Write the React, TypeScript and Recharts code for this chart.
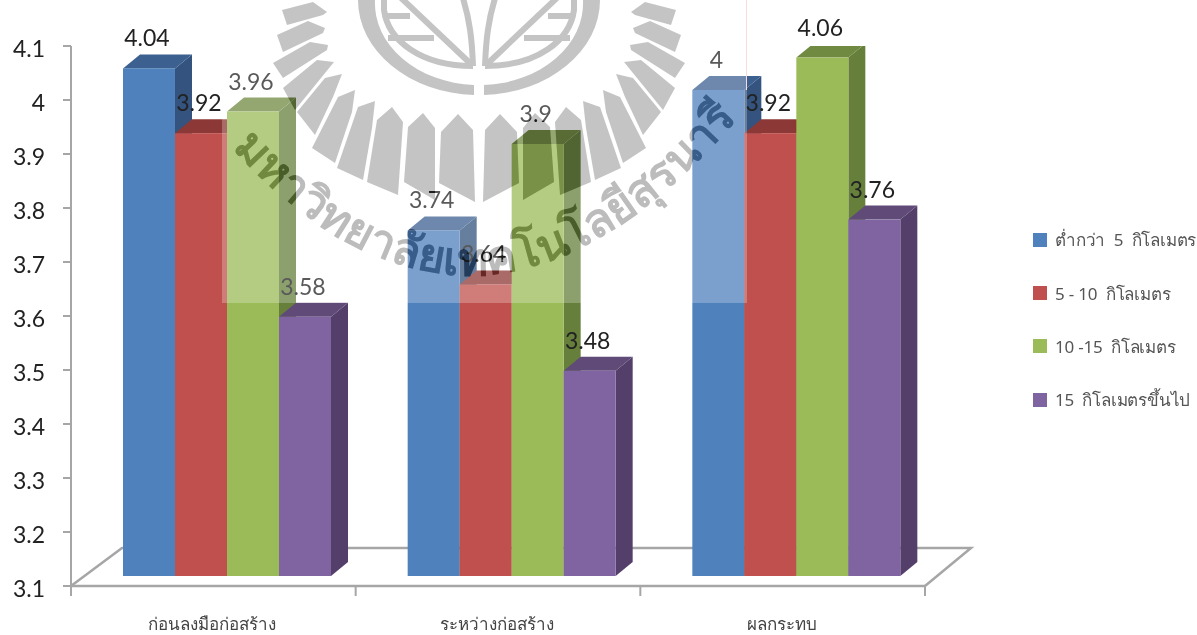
import { Bar, BarChart, LabelList, Legend, XAxis, YAxis } from "recharts";

const categories = ["ก่อนลงมือก่อสร้าง", "ระหว่างก่อสร้าง", "ผลกระทบ"];
const under5km = [4.04, 3.74, 4];
const km5to10 = [3.92, 3.64, 3.92];
const km10to15 = [3.96, 3.9, 4.06];
const over15km = [3.58, 3.48, 3.76];
const yTicks = [3.1, 3.2, 3.3, 3.4, 3.5, 3.6, 3.7, 3.8, 3.9, 4, 4.1];

const seriesList = [
  { key: "a", name: "ต่ำกว่า  5  กิโลเมตร", front: "#4f81bd", top: "#3c6190", side: "#34547f" },
  { key: "b", name: "5 - 10  กิโลเมตร", front: "#c0504d", top: "#8c3836", side: "#8c3836" },
  { key: "c", name: "10 -15  กิโลเมตร", front: "#9bbb59", top: "#718a41", side: "#66803c" },
  { key: "d", name: "15  กิโลเมตรขึ้นไป", front: "#8064a2", top: "#5f4a78", side: "#533f6a" },
];

const data = categories.map((name, i) => ({
  name,
  a: under5km[i],
  b: km5to10[i],
  c: km10to15[i],
  d: over15km[i],
}));

const THAI = "'Noto Sans', 'DejaVu Sans', sans-serif";
const LATIN = "Lato, sans-serif";
const W = 1197;
const H = 635;
const plot = { left: 71, right: 925, top: 46, bottom: 586 };
const band = (plot.right - plot.left) / categories.length;
// the 3D look: front faces are pushed in from the axes, depth goes up and to the right
const shift = { x: 14, y: -10 };
const depth = { x: 17, y: -14 };

function Bar3D(props: any) {
  const { x, y, width, height, front, top, side } = props;
  const l = x + shift.x;
  const r = l + width;
  const t = y + shift.y;
  const b = t + height;
  const dx = depth.x;
  const dy = depth.y;
  return (
    <g>
      <polygon points={`${r},${t} ${r + dx},${t + dy} ${r + dx},${b + dy} ${r},${b}`} fill={side} />
      <polygon points={`${l},${t} ${l + dx},${t + dy} ${r + dx},${t + dy} ${r},${t}`} fill={top} />
      <rect x={l} y={t} width={width} height={height} fill={front} />
    </g>
  );
}

function ValueLabel(props: any) {
  const { x, y, width, value } = props;
  return (
    <text
      x={x + shift.x + width / 2 - 2}
      y={y + shift.y - 31}
      textAnchor="middle"
      dominantBaseline="central"
      fontFamily={LATIN}
      fontSize={23}
      fill="#222"
    >
      {value}
    </text>
  );
}

function YTick(props: any) {
  const { x, y, payload } = props;
  return (
    <text x={x} y={y + 2} textAnchor="end" dominantBaseline="central" fontFamily={LATIN} fontSize={23} fill="#222">
      {payload.value}
    </text>
  );
}

function CategoryTick(props: any) {
  const { x, y, payload, index } = props;
  return (
    <g>
      <line x1={x - band / 2} x2={x - band / 2} y1={y - 8} y2={y + 2} stroke="#a6a6a6" strokeWidth={2} />
      {index === categories.length - 1 && (
        <line x1={x + band / 2} x2={x + band / 2} y1={y - 8} y2={y + 2} stroke="#a6a6a6" strokeWidth={2} />
      )}
      <text x={x - 1} y={y + 36} textAnchor="middle" fontFamily={THAI} fontSize={17} fill="#444">
        {payload.value}
      </text>
    </g>
  );
}

function LegendList({ payload }: any) {
  return (
    <div style={{ width: 164 }}>
      {(payload ?? []).map((item: any) => (
        <div key={item.value} style={{ height: 53.4, display: "flex", alignItems: "center", whiteSpace: "pre" }}>
          <span style={{ width: 14, height: 14, background: item.color, marginRight: 8 }} />
          <span style={{ fontFamily: THAI, fontSize: 17, letterSpacing: -0.2, color: "#555" }}>{item.value}</span>
        </div>
      ))}
    </div>
  );
}

function Floor() {
  const y0 = plot.bottom;
  const y1 = 548;
  return (
    <svg width={W} height={H} style={{ position: "absolute", left: 0, top: 0 }}>
      <polyline
        points={`${plot.left},${y0} 122,${y1} 971,${y1} ${plot.right},${y0}`}
        fill="none"
        stroke="#a6a6a6"
        strokeWidth={2.5}
      />
    </svg>
  );
}

// university seal printed over the page, left half only, the right half is mirrored
const sealRays = [
  "282,10 313,2 327,12 323,15 287,25",
  "277,35 308,21 325,28 323,33 283,52",
  "273,63 310,42 328,45 327,50 283,78",
  "283,88 317,60 334,62 295,110",
  "297,112 325,78 342,74 333,97 315,135",
  "312,148 338,97 355,90 352,112 335,163",
  "337,168 358,107 375,101 372,128 363,180",
  "367,182 377,120 392,107 403,122 398,195",
  "404,182 408,127 423,113 435,128 435,200",
  "439,183 441,132 458,114 473,130 475,202",
];

function SealHalf() {
  return (
    <g>
      {sealRays.map((pts) => (
        <polygon key={pts} points={pts} />
      ))}
      <path d="M 358 -5 V 0 A 121 95 0 0 0 474 95 V 85 A 104 82 0 0 1 375 0 V -5 Z" />
      <g fill="none" stroke="#c4c4c4" strokeWidth={6}>
        <path d="M 384 -5 V 10 C 388 40 420 66 473 66" />
        <path d="M 398 -5 L 473 66" />
        <path d="M 384 16 H 410" />
        <path d="M 388 38 H 434" />
        <path d="M 462 -5 C 470 20 472 40 473 66" />
      </g>
    </g>
  );
}

function SealShape() {
  return (
    <g id="sealShape" fill="#c4c4c4">
      <SealHalf />
      <g transform="translate(958 0) scale(-1 1)">
        <SealHalf />
      </g>
      <path id="sealArc" d="M 225 140 Q 478 425 745 110" fill="none" />
      <text fontFamily={THAI} fontSize={46} fontWeight={700} fill="#bcbcbc">
        <textPath href="#sealArc" startOffset="50%" textAnchor="middle">
          มหาวิทยาลัยเทคโนโลยีสุรนารี
        </textPath>
      </text>
    </g>
  );
}

function Watermark() {
  return (
    <>
      <svg width={W} height={H} style={{ position: "absolute", left: 0, top: 0, pointerEvents: "none" }}>
        <rect x={222} y={0} width={525} height={303} fill="#fff" fillOpacity={0.25} />
        <line x1={746.5} x2={746.5} y1={0} y2={90} stroke="#f8dcdc" strokeWidth={1} />
      </svg>
      <svg width={W} height={H} style={{ position: "absolute", left: 0, top: 0, mixBlendMode: "color-burn", pointerEvents: "none" }}>
        <use href="#sealShape" />
      </svg>
      <svg width={W} height={H} style={{ position: "absolute", left: 0, top: 0, mixBlendMode: "multiply", pointerEvents: "none" }}>
        <SealShape />
      </svg>
    </>
  );
}

export default function App() {
  return (
    <div style={{ position: "absolute", left: 0, top: 0, width: W, height: H, background: "#fff", overflow: "hidden" }}>
      <Floor />
      <div style={{ position: "absolute", left: 0, top: 0 }}>
        <BarChart
          width={W}
          height={H}
          data={data}
          margin={{ top: plot.top, right: W - plot.right, bottom: 0, left: 0 }}
          barCategoryGap={38}
          barGap={0}
        >
          <XAxis
            dataKey="name"
            height={H - plot.bottom}
            axisLine={{ stroke: "#a6a6a6", strokeWidth: 2.5 }}
            tickLine={false}
            tick={<CategoryTick />}
            interval={0}
          />
          <YAxis
            width={plot.left}
            domain={[3.1, 4.1]}
            ticks={yTicks}
            interval={0}
            allowDataOverflow
            axisLine={{ stroke: "#a6a6a6", strokeWidth: 2 }}
            tickLine={{ stroke: "#a6a6a6", strokeWidth: 2 }}
            tickSize={8}
            tickMargin={18}
            tick={<YTick />}
          />
          <Legend
            layout="vertical"
            align="right"
            verticalAlign="top"
            itemSorter={null}
            content={<LegendList />}
            wrapperStyle={{ left: 1033, top: 213, width: 0, height: 0 }}
          />
          {seriesList.map((s) => (
            <Bar
              key={s.key}
              dataKey={s.key}
              name={s.name}
              fill={s.front}
              isAnimationActive={false}
              shape={<Bar3D front={s.front} top={s.top} side={s.side} />}
            >
              <LabelList dataKey={s.key} content={<ValueLabel />} />
            </Bar>
          ))}
        </BarChart>
      </div>
      <Watermark />
    </div>
  );
}
